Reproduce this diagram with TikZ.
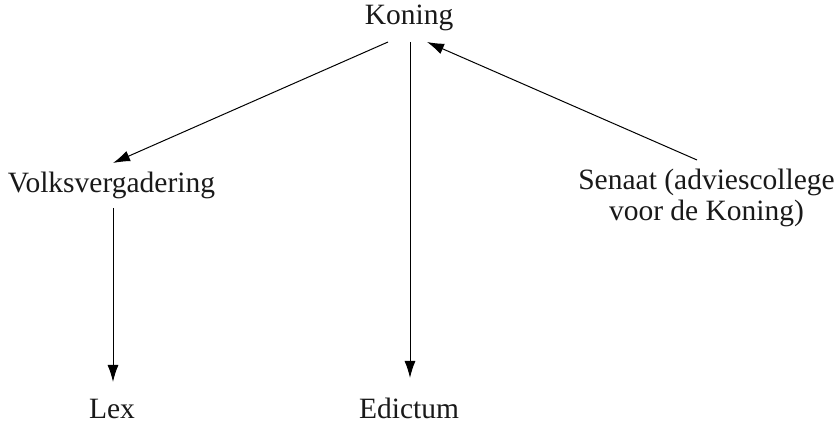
\documentclass[tikz,border=0pt]{standalone}
\usepackage{fontspec}
\setmainfont{Liberation Serif}
\usetikzlibrary{arrows.meta}
\begin{document}
\begin{tikzpicture}[x=1pt,y=1pt,
  lbl/.style={inner sep=0pt,font=\fontsize{29.5}{31}\selectfont,text=black!90},
  arr/.style={line width=1pt,-{Latex[length=17pt,width=11pt]}}]
\path[use as bounding box] (0,0) rectangle (835,423);
\node[lbl,anchor=base] (koning) at (409,398) {Koning};
\node[lbl,anchor=base] (volks) at (111.5,230) {Volksvergadering};
\node[lbl,anchor=base,align=center] (senaat) at (706.5,202) {Senaat (adviescollege\\voor de Koning)};
\node[lbl,anchor=base] (lex) at (112,5) {Lex};
\node[lbl,anchor=base] (edictum) at (409,5) {Edictum};
\draw[arr] ([shift={(-21,-17)}]koning.base) -- ([shift={(1.5,30)}]volks.base);
\draw[arr] ([shift={(1,-17)}]koning.base) -- ([shift={(1,40)}]edictum.base);
\draw[arr] ([shift={(-9.5,61)}]senaat.base) -- ([shift={(18,-17)}]koning.base);
\draw[arr] ([shift={(1.5,-15)}]volks.base) -- ([shift={(1,36)}]lex.base);
\end{tikzpicture}
\end{document}
